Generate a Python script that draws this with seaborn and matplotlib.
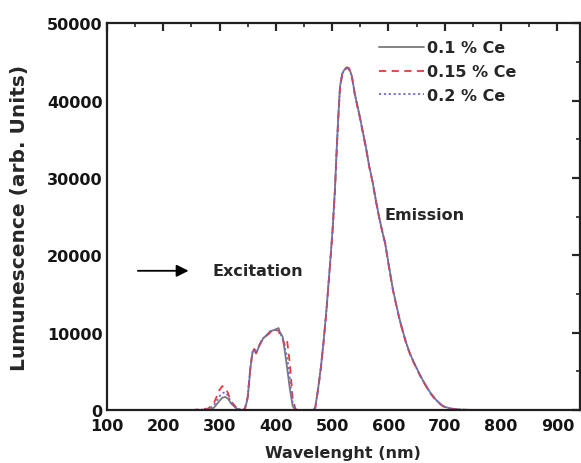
import matplotlib
matplotlib.use("Agg")
import matplotlib.pyplot as plt
import seaborn as sns
import numpy as np
import pandas as pd
from matplotlib.ticker import MultipleLocator

sns.set_theme(style="white")
plt.rcParams['font.family'] = ['DejaVu Sans']
plt.rcParams['font.weight'] = 'bold'

# wavelength grid (nm)
wavelength = [250, 280, 290, 300, 305, 310, 315, 320, 330, 340, 345, 350, 355, 359, 362, 365,
              370, 377, 385, 390, 395, 402, 405, 407, 412, 416, 420, 425, 430, 435, 445,
              460, 466, 470, 475, 480, 485, 490, 493, 497, 501, 505, 508, 511, 514, 518,
              522, 526, 530, 535, 540, 545, 549, 555, 560, 566, 572, 578, 584, 590, 594,
              600, 608, 615, 620, 626, 632, 640, 651, 660, 674, 685, 697, 710, 730, 760, 800]

ce_01 = [0, 0, 300, 1200, 1600, 1700, 1500, 900, 200, 0, 100, 1500, 5500, 7600, 7800, 7300,
         8200, 9200, 9800, 10200, 10300, 10500, 10600, 10100, 9500, 7600, 5500, 2700, 500, 0, 0,
         0, 0, 300, 2700, 5500, 9000, 13000, 15800, 19500, 23500, 28500, 33500, 38000, 41800, 43500,
         44000, 44300, 44200, 43200, 41000, 39300, 38000, 35800, 34000, 31500, 29500, 27000, 24800, 22800, 21700,
         19000, 15600, 13300, 11700, 10100, 8600, 7000, 5300, 4000, 2300, 1300, 500, 200, 50, 0, 0]

ce_015 = [0, 200, 900, 2600, 3100, 2900, 2200, 1200, 300, 0, 150, 1700, 5700, 7700, 7900, 7400,
          8300, 9300, 9700, 10000, 10400, 10300, 10300, 9800, 9200, 8400, 9000, 6000, 1500, 100, 0,
          0, 0, 300, 2600, 5400, 8900, 12900, 15700, 19400, 23400, 28300, 33300, 37800, 41600, 43400,
          43900, 44200, 44100, 43100, 40900, 39200, 37900, 35700, 33900, 31400, 29400, 26900, 24700, 22700, 21600,
          18900, 15500, 13200, 11600, 10000, 8500, 6900, 5200, 3900, 2200, 1200, 500, 200, 50, 0, 0]

ce_02 = [0, 100, 600, 1800, 2200, 2300, 1900, 1000, 250, 0, 120, 1600, 5600, 7600, 7800, 7350,
         8250, 9250, 9750, 10100, 10350, 10400, 10450, 9950, 9400, 8000, 7000, 4000, 900, 50, 0,
         0, 0, 300, 2650, 5450, 8950, 12950, 15750, 19450, 23450, 28400, 33400, 37900, 41700, 43450,
         43950, 44250, 44150, 43150, 40950, 39250, 37950, 35750, 33950, 31450, 29450, 26950, 24750, 22750, 21650,
         18950, 15550, 13250, 11650, 10050, 8550, 6950, 5250, 3950, 2250, 1250, 500, 200, 50, 0, 0]

labels = ['0.1 % Ce', '0.15 % Ce', '0.2 % Ce']

df = pd.DataFrame({
    'Wavelength': wavelength * 3,
    'Intensity': ce_01 + ce_015 + ce_02,
    'Sample': [labels[0]] * len(wavelength) + [labels[1]] * len(wavelength) + [labels[2]] * len(wavelength),
})

fig = plt.figure(figsize=(5.81, 4.64), dpi=100)
ax = fig.add_axes([0.184, 0.114, 0.814, 0.834])

palette = {labels[0]: '#7a7a7a', labels[1]: '#e8383a', labels[2]: '#6a6ad8'}
dashes = {labels[0]: '', labels[1]: (4, 3), labels[2]: (1.2, 1.5)}
sns.lineplot(data=df, x='Wavelength', y='Intensity', hue='Sample', style='Sample',
             palette=palette, dashes=dashes, linewidth=1.3, ax=ax, sort=False)

ax.set_xlim(100, 940)
ax.set_ylim(0, 50000)
ax.xaxis.set_major_locator(MultipleLocator(100))
ax.xaxis.set_minor_locator(MultipleLocator(50))
ax.yaxis.set_major_locator(MultipleLocator(10000))
ax.yaxis.set_minor_locator(MultipleLocator(5000))
ax.tick_params(which='major', direction='in', length=6, width=1.6, top=True, right=True,
               labelsize=11.5)
ax.tick_params(axis='x', which='major', pad=6)
ax.tick_params(axis='y', which='major', pad=3)
ax.tick_params(which='minor', direction='in', length=3, width=1.2, top=True, right=True)
for s in ax.spines.values():
    s.set_linewidth(1.6)
    s.set_color('#202020')
for lab in ax.get_xticklabels() + ax.get_yticklabels():
    lab.set_fontweight('bold')
    lab.set_color('#151515')

ax.set_xlabel('Wavelenght (nm)', fontsize=11.5, fontweight='bold', labelpad=8)
ax.set_ylabel('Lumunescence (arb. Units)', fontsize=14.5, fontweight='bold', labelpad=13)

ax.text(665, 25300, 'Emission', fontsize=11.5, fontweight='bold', ha='center', va='center')
ax.text(368, 18000, 'Excitation', fontsize=11.5, fontweight='bold', ha='center', va='center')
ax.annotate('', xy=(250, 18000), xytext=(150, 18000),
            arrowprops=dict(arrowstyle='-|>', color='black', lw=1.3, mutation_scale=18))

leg = ax.legend(loc='upper left', frameon=False, fontsize=11.5, handlelength=2.8,
                handletextpad=0.2, labelspacing=0.55, borderaxespad=0.0,
                bbox_to_anchor=(0.562, 0.972))
for t in leg.get_texts():
    t.set_fontweight('bold')

fig.savefig('out.png', dpi=100)
